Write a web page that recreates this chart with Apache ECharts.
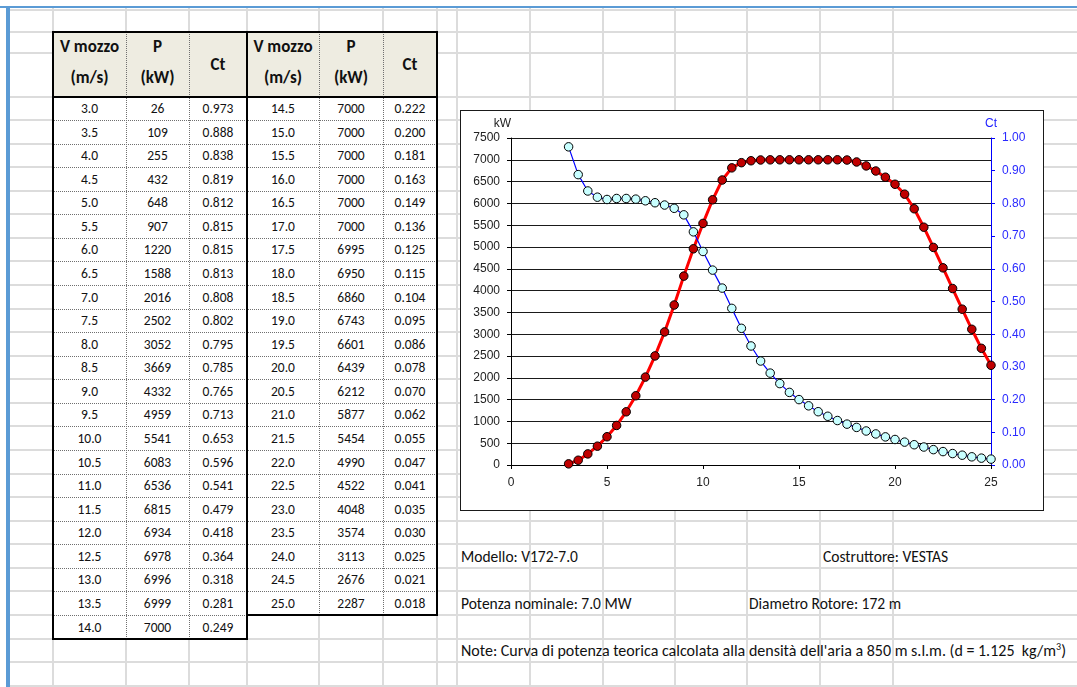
<!DOCTYPE html>
<html><head><meta charset="utf-8">
<script src="https://cdn.jsdelivr.net/npm/echarts@6/dist/echarts.min.js"></script>
<style>
html,body{margin:0;padding:0;background:#fff;width:1077px;height:687px;overflow:hidden;}
body{position:relative;font-family:Carlito,Lato,"Open Sans",sans-serif;color:#111;}
#sheet{position:absolute;left:0;top:0;width:1077px;height:687px;}
#chart{position:absolute;left:460px;top:110px;width:584px;height:401px;background:#fff;}
#chartBorder{position:absolute;left:460px;top:110px;width:584px;height:401px;box-sizing:border-box;border:1px solid #1a1a1a;pointer-events:none;}
</style></head><body>
<div id="sheet"></div>
<div id="chart"></div>
<div id="chartBorder"></div>
<script>
// ---- data ----
const windSpeed = [3.0,3.5,4.0,4.5,5.0,5.5,6.0,6.5,7.0,7.5,8.0,8.5,9.0,9.5,10.0,10.5,11.0,11.5,12.0,12.5,13.0,13.5,14.0,14.5,15.0,15.5,16.0,16.5,17.0,17.5,18.0,18.5,19.0,19.5,20.0,20.5,21.0,21.5,22.0,22.5,23.0,23.5,24.0,24.5,25.0];
const powerKW = [26,109,255,432,648,907,1220,1588,2016,2502,3052,3669,4332,4959,5541,6083,6536,6815,6934,6978,6996,6999,7000,7000,7000,7000,7000,7000,7000,6995,6950,6860,6743,6601,6439,6212,5877,5454,4990,4522,4048,3574,3113,2676,2287];
const thrustCt = [0.973,0.888,0.838,0.819,0.812,0.815,0.815,0.813,0.808,0.802,0.795,0.785,0.765,0.713,0.653,0.596,0.541,0.479,0.418,0.364,0.318,0.281,0.249,0.222,0.200,0.181,0.163,0.149,0.136,0.125,0.115,0.104,0.095,0.086,0.078,0.070,0.062,0.055,0.047,0.041,0.035,0.030,0.025,0.021,0.018];
const headerTop = ['V mozzo','P','Ct'];
const headerUnit = ['(m/s)','(kW)',''];
const leftRows = 23;
const axisNamePower = 'kW';
const axisNameCt = 'Ct';
const modelText = 'Modello: V172-7.0';
const makerText = 'Costruttore: VESTAS';
const ratedText = 'Potenza nominale: 7.0 MW';
const rotorText = 'Diametro Rotore: 172 m';
const noteText = "Note: Curva di potenza teorica calcolata alla densità dell'aria a 850 m s.l.m. (d = 1.125\u00a0 kg/m";
const noteSup = '3';

// ---- spreadsheet layout ----
const sheet = document.getElementById('sheet');
function box(l,t,w,h,style){const d=document.createElement('div');d.style.cssText=`position:absolute;left:${l}px;top:${t}px;width:${w}px;height:${h}px;`+(style||'');sheet.appendChild(d);return d;}
function txt(s,l,t,w,h,style){const d=box(l,t,w,h,'display:flex;align-items:center;justify-content:center;white-space:nowrap;'+(style||''));d.textContent=s;return d;}

const colX = [53,126,189,247,319,383,437,457,530,603,675,747,820,893];
const rowY = [10,32,53,96.5];
for(let n=1;n<=25;n++) rowY.push(96.5+n*23.57);
const R = rowY.map(v=>Math.round(v));
const gridCol = '#dcdcdc';
colX.forEach(x=>box(x-1,8,2,687-8,'background:'+gridCol));
R.forEach(y=>box(10,y-1,1077-10,2,'background:'+gridCol));
box(0,6,1077,2,'background:#5b9bd5');
box(6,6,4,681,'background:#5b9bd5');

const tL=53, tM=247, tR=437, tTop=32, hBot=R[3];
const rowTop = i => R[3+i];
const leftBottom = rowTop(leftRows), rightBottom = rowTop(windSpeed.length-leftRows);
box(tL,tTop,tM-tL,leftBottom-tTop,'background:#fff');
box(tM,tTop,tR-tM,rightBottom-tTop,'background:#fff');
box(tL,tTop,tR-tL,hBot-tTop,'background:#eeece1');
const dot='border-left:1px dotted #6f6f6f;';
[126,189].forEach(x=>box(x,tTop,0,leftBottom-tTop,dot));
[319,383].forEach(x=>box(x,tTop,0,rightBottom-tTop,dot));
for(let i=1;i<leftRows;i++) box(tL,rowTop(i),tM-tL,0,'border-top:1px dotted #6f6f6f;');
for(let i=1;i<windSpeed.length-leftRows;i++) box(tM,rowTop(i),tR-tM,0,'border-top:1px dotted #6f6f6f;');
const hCols=[[53,126],[126,189],[189,247],[247,319],[319,383],[383,437]];
const HF='font-weight:bold;font-size:17px;';
hCols.forEach((c,k)=>{
  const j=k%3;
  if(headerUnit[j]){
    txt(headerTop[j],c[0],tTop+1,c[1]-c[0],26,HF);
    txt(headerUnit[j],c[0],tTop+30,c[1]-c[0],30,HF);
  } else {
    txt(headerTop[j],c[0],tTop,c[1]-c[0],hBot-tTop-1,HF);
  }
});
const DF='font-size:13.5px;';
windSpeed.forEach((v,i)=>{
  const half = i<leftRows?0:1; const r = half?i-leftRows:i;
  const y0=rowTop(r), h=rowTop(r+1)-y0;
  const cs = hCols.slice(half*3,half*3+3);
  txt(v.toFixed(1),cs[0][0],y0,cs[0][1]-cs[0][0],h,DF);
  txt(String(powerKW[i]),cs[1][0],y0,cs[1][1]-cs[1][0],h,DF);
  txt(thrustCt[i].toFixed(3),cs[2][0],y0,cs[2][1]-cs[2][0],h,DF);
});
const K='background:#000;';
box(tL-1,tTop-1,tR-tL+2,2,K);
box(tL-1,hBot-1,tR-tL+2,2,K);
box(tL-1,tTop-1,2,leftBottom-tTop+2,K);
box(tM-1,tTop-1,2,leftBottom-tTop+2,K);
box(tR-1,tTop-1,2,rightBottom-tTop+2,K);
box(tL-1,leftBottom-1,tM-tL+2,2,K);
box(tM-1,rightBottom-1,tR-tM+2,2,K);
function info(x,row,fs){const y0=R[3+row],h=R[4+row]-y0;const d=box(x,y0,640,h,'display:flex;align-items:center;white-space:nowrap;font-size:'+fs+'px;');const s=document.createElement('span');d.appendChild(s);return s;}
info(461,19,15.5).textContent=modelText;
info(823,19,15.5).textContent=makerText;
info(461,21,15.5).textContent=ratedText;
info(749,21,15.5).textContent=rotorText;
const ns=info(461,23,16);
ns.appendChild(document.createTextNode(noteText));
const sp=document.createElement('sup');sp.textContent=noteSup;sp.style.cssText='font-size:10px;vertical-align:super;line-height:0';
ns.appendChild(sp);ns.appendChild(document.createTextNode(')'));

// ---- chart ----
const chart = echarts.init(document.getElementById('chart'),null,{renderer:'canvas'});
const font = '"Liberation Sans", Arial, sans-serif';
chart.setOption({
  animation:false,
  backgroundColor:'#fff',
  grid:{left:51,top:28,width:480,height:327,containLabel:false,outerBoundsMode:'none'},
  xAxis:{type:'value',min:0,max:25,interval:5,
    axisLine:{show:true,onZero:false,lineStyle:{color:'#000',width:1}},
    axisTick:{show:true,inside:false,length:4,lineStyle:{color:'#000'}},
    axisLabel:{color:'#222',fontSize:12,fontFamily:font,margin:12,showMinLabel:true,showMaxLabel:true,formatter:v=>String(v)},
    splitLine:{show:false}},
  yAxis:[
    {type:'value',min:0,max:7500,interval:500,position:'left',
     name:axisNamePower,nameLocation:'end',nameGap:8,
     nameTextStyle:{color:'#222',fontSize:12,fontFamily:font,align:'right'},
     axisLine:{show:true,lineStyle:{color:'#000',width:1}},
     axisTick:{show:true,inside:false,length:4,lineStyle:{color:'#000'}},
     axisLabel:{color:'#222',fontSize:12,fontFamily:font,margin:11,showMinLabel:true,showMaxLabel:true,formatter:v=>String(v)},
     splitLine:{show:true,lineStyle:{color:'#1a1a1a',width:1}}},
    {type:'value',min:0,max:1,interval:0.1,position:'right',
     name:axisNameCt,nameLocation:'end',nameGap:8,
     nameTextStyle:{color:'#2020ff',fontSize:12,fontFamily:font},
     axisLine:{show:true,lineStyle:{color:'#0000ff',width:1}},
     axisTick:{show:true,inside:false,length:4,lineStyle:{color:'#0000ff'}},
     axisLabel:{color:'#2a2aff',fontSize:12,fontFamily:font,margin:11,showMinLabel:true,showMaxLabel:true,formatter:v=>v.toFixed(2)},
     splitLine:{show:false}}
  ],
  series:[
    {name:'P',type:'line',yAxisIndex:0,data:windSpeed.map((v,i)=>[v,powerKW[i]]),
     lineStyle:{color:'#ff0000',width:3},symbol:'circle',symbolSize:8.5,
     itemStyle:{color:'#c00000',borderColor:'#000',borderWidth:1},z:3},
    {name:'Ct',type:'line',yAxisIndex:1,data:windSpeed.map((v,i)=>[v,thrustCt[i]]),
     lineStyle:{color:'#0000ff',width:1.2},symbol:'circle',symbolSize:8.5,
     itemStyle:{color:'#c8ffff',borderColor:'#000',borderWidth:1},z:4}
  ]
});
</script>
</body></html>
